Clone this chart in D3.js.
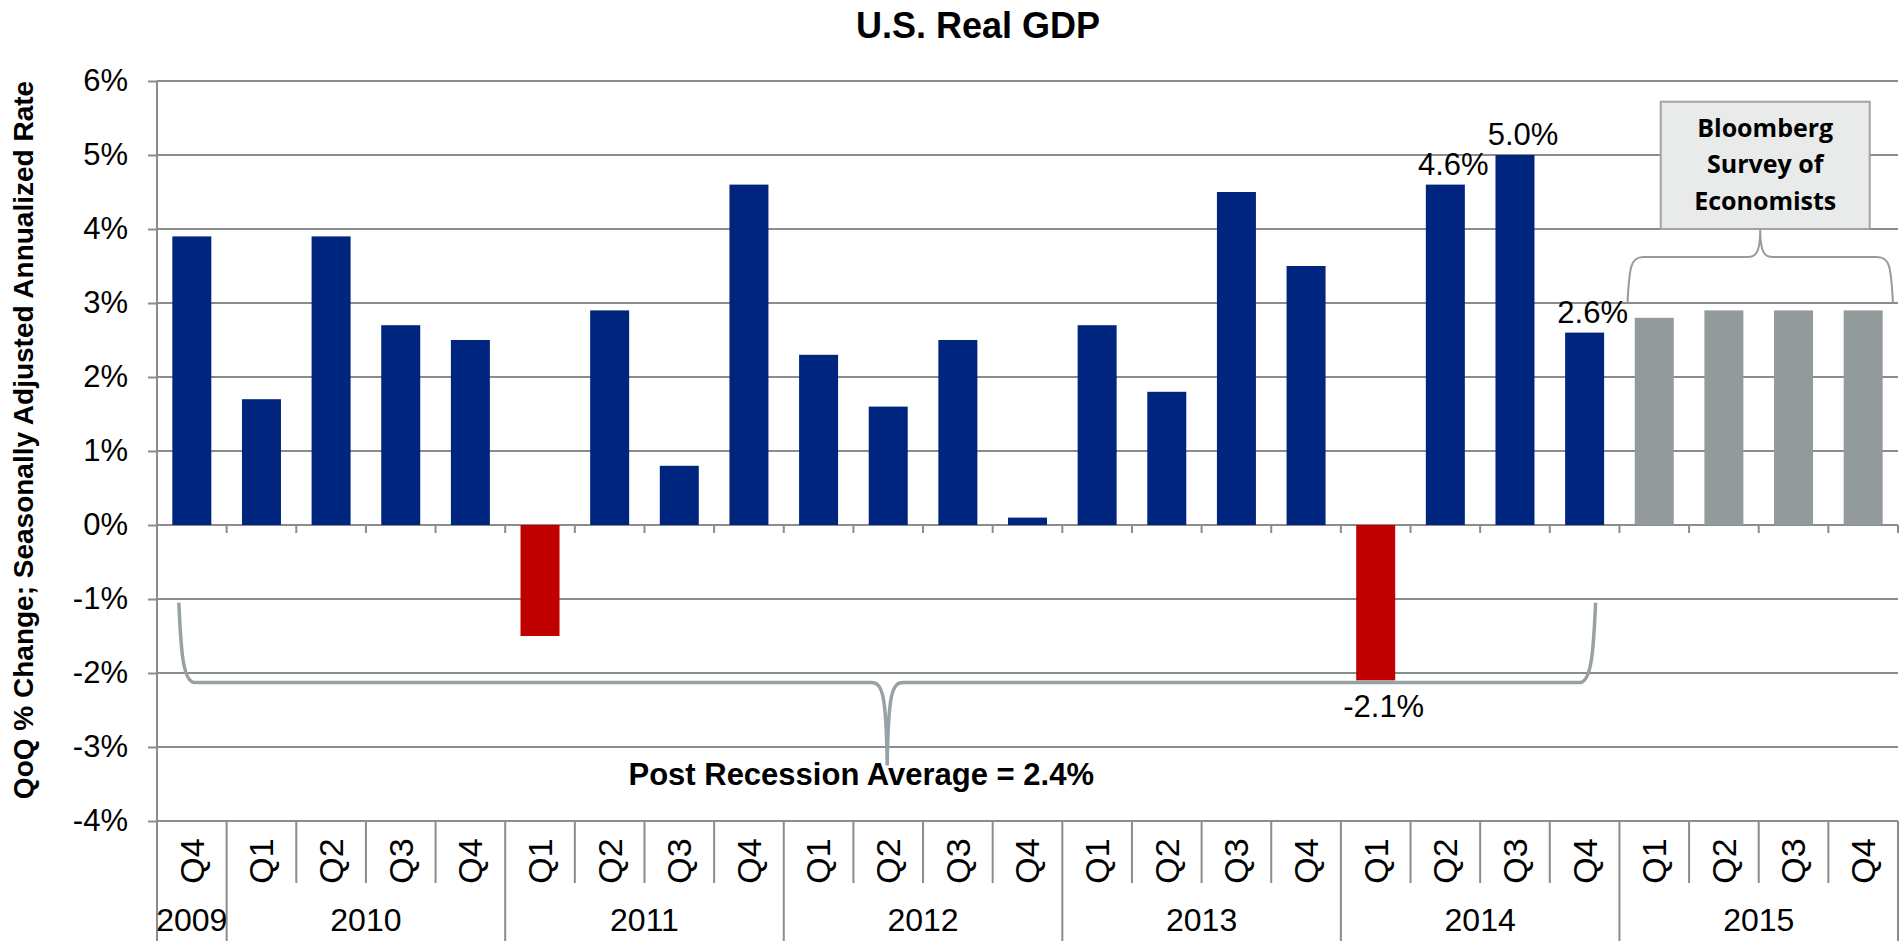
<!DOCTYPE html>
<html>
<head>
<meta charset="utf-8">
<title>U.S. Real GDP</title>
<script src="https://cdn.jsdelivr.net/npm/d3@7"></script>
<style>
  html, body { margin: 0; padding: 0; background: #fff; }
  svg { display: block; font-family: "Liberation Sans", Arial, sans-serif; }
</style>
</head>
<body>
<div id="chart"></div>
<script>
"use strict";

// QoQ % change, seasonally adjusted annualized rate
var yearLabels = ["2009", "2010", "2011", "2012", "2013", "2014", "2015"];
var quarterLabels = [
  ["Q4"],
  ["Q1", "Q2", "Q3", "Q4"],
  ["Q1", "Q2", "Q3", "Q4"],
  ["Q1", "Q2", "Q3", "Q4"],
  ["Q1", "Q2", "Q3", "Q4"],
  ["Q1", "Q2", "Q3", "Q4"],
  ["Q1", "Q2", "Q3", "Q4"]
];
// 2009 Q4 .. 2014 Q4 reported
var actualGrowth = [3.9, 1.7, 3.9, 2.7, 2.5, -1.5, 2.9, 0.8, 4.6, 2.3, 1.6,
                    2.5, 0.1, 2.7, 1.8, 4.5, 3.5, -2.1, 4.6, 5.0, 2.6];
// 2015 Q1 .. Q4 survey
var surveyGrowth = [2.8, 2.9, 2.9, 2.9];
var labeledQuarters = ["2014 Q1", "2014 Q2", "2014 Q3", "2014 Q4"];
var yTicks = [-4, -3, -2, -1, 0, 1, 2, 3, 4, 5, 6];

var titleText = "U.S. Real GDP";
var yTitleText = "QoQ % Change; Seasonally Adjusted Annualized Rate";
var averageText = "Post Recession Average = 2.4%";
var surveyText = ["Bloomberg", "Survey of", "Economists"];

// build one row per quarter
var rows = [];
yearLabels.forEach(function(yr, i) {
  quarterLabels[i].forEach(function(q) {
    rows.push({ key: yr + " " + q, year: yr, quarter: q });
  });
});
var allValues = actualGrowth.concat(surveyGrowth);
rows.forEach(function(d, i) {
  d.value = allValues[i];
  d.survey = i >= actualGrowth.length;
});

var width = 1902, height = 941;
var plotLeft = 157, plotRight = 1898, plotTop = 81, plotBottom = 821;

var svg = d3.select("#chart").append("svg")
    .attr("width", width)
    .attr("height", height);

var x = d3.scaleBand()
    .domain(rows.map(function(d) { return d.key; }))
    .range([plotLeft, plotRight]);

var y = d3.scaleLinear()
    .domain([-4, 6])
    .range([plotBottom, plotTop]);

var barW = x.bandwidth() * 0.56;
var gridColor = "#8c8c8c";

// gridlines
svg.append("g").selectAll("line")
    .data(yTicks)
  .enter().append("line")
    .attr("x1", plotLeft)
    .attr("x2", plotRight)
    .attr("y1", function(d) { return y(d); })
    .attr("y2", function(d) { return y(d); })
    .attr("stroke", gridColor)
    .attr("stroke-width", 2);

// y axis
var yAxis = svg.append("g")
    .attr("transform", "translate(" + plotLeft + ",0)")
    .call(d3.axisLeft(y)
      .tickValues(yTicks)
      .tickSize(9)
      .tickSizeOuter(0)
      .tickPadding(20)
      .tickFormat(function(d) { return d + "%"; }));
yAxis.select(".domain").remove();
yAxis.selectAll(".tick line").attr("stroke", gridColor).attr("stroke-width", 2);
yAxis.selectAll(".tick text")
    .attr("fill", "#000")
    .style("font-size", "31px")
    .style("font-family", "'Liberation Sans', Arial, sans-serif");

svg.append("line")
    .attr("x1", plotLeft).attr("x2", plotLeft)
    .attr("y1", plotTop).attr("y2", height)
    .attr("stroke", gridColor).attr("stroke-width", 2);

// bars
svg.append("g").selectAll("rect")
    .data(rows)
  .enter().append("rect")
    .attr("x", function(d) { return x(d.key) + (x.bandwidth() - barW) / 2; })
    .attr("y", function(d) { return y(Math.max(0, d.value)); })
    .attr("width", barW)
    .attr("height", function(d) { return Math.abs(y(d.value) - y(0)); })
    .attr("fill", function(d) {
      if (d.survey) return "#939a9c";
      return d.value < 0 ? "#c00000" : "#00257f";
    });

// small ticks on the zero line
var bounds = rows.slice(1).map(function(d) { return x(d.key); }).concat([plotRight]);
svg.append("g").selectAll("line")
    .data(bounds)
  .enter().append("line")
    .attr("x1", function(d) { return d; })
    .attr("x2", function(d) { return d; })
    .attr("y1", y(0))
    .attr("y2", y(0) + 8)
    .attr("stroke", gridColor).attr("stroke-width", 2);

// category table below the plot
var yearStart = {};
rows.forEach(function(d) { if (!(d.year in yearStart)) yearStart[d.year] = x(d.key); });
var sepLines = rows.map(function(d) {
  return { x: x(d.key), full: yearStart[d.year] === x(d.key) };
}).concat([{ x: plotRight, full: true }]);

svg.append("g").selectAll("line")
    .data(sepLines)
  .enter().append("line")
    .attr("x1", function(d) { return d.x; })
    .attr("x2", function(d) { return d.x; })
    .attr("y1", plotBottom)
    .attr("y2", function(d) { return d.full ? height : plotBottom + 62; })
    .attr("stroke", gridColor).attr("stroke-width", 2);

svg.append("g").selectAll("text")
    .data(rows)
  .enter().append("text")
    .attr("transform", function(d) {
      return "translate(" + (x(d.key) + x.bandwidth() / 2) + "," + (plotBottom + 40) + ") rotate(-90)";
    })
    .attr("dy", "0.35em")
    .attr("text-anchor", "middle")
    .style("font-size", "34px")
    .text(function(d) { return d.quarter; });

svg.append("g").selectAll("text")
    .data(yearLabels)
  .enter().append("text")
    .attr("x", function(yr) {
      var keys = rows.filter(function(d) { return d.year === yr; });
      var x0 = x(keys[0].key), x1 = x(keys[keys.length - 1].key) + x.bandwidth();
      return (x0 + x1) / 2;
    })
    .attr("y", 931)
    .attr("text-anchor", "middle")
    .style("font-size", "32px")
    .text(function(d) { return d; });

// value labels for 2014
svg.append("g").selectAll("text")
    .data(rows.filter(function(d) { return labeledQuarters.indexOf(d.key) >= 0; }))
  .enter().append("text")
    .attr("x", function(d) { return x(d.key) + x.bandwidth() / 2 + 8; })
    .attr("y", function(d) { return d.value < 0 ? y(d.value) + 37 : y(d.value) - 10; })
    .attr("text-anchor", "middle")
    .style("font-size", "31px")
    .text(function(d) { return d.value.toFixed(1) + "%"; });

// post recession brace
var k0 = rows[0].key, k20 = rows[actualGrowth.length - 1].key;
var bL = x(k0) + x.bandwidth() / 2 - 13,
    bR = x(k20) + x.bandwidth() / 2 + 11,
    bM = (bL + bR) / 2,
    bTop = y(-1.05), bMid = y(-2.13), bTip = y(-3.25);
svg.append("path")
    .attr("d", "M" + bL + "," + bTop +
      " C" + (bL + 2) + "," + (bMid - 40) + " " + (bL + 3) + "," + bMid + " " + (bL + 16) + "," + bMid +
      " L" + (bM - 16) + "," + bMid +
      " C" + (bM - 5) + "," + bMid + " " + (bM - 1) + "," + (bMid + 10) + " " + bM + "," + bTip +
      " C" + (bM + 1) + "," + (bMid + 10) + " " + (bM + 5) + "," + bMid + " " + (bM + 16) + "," + bMid +
      " L" + (bR - 16) + "," + bMid +
      " C" + (bR - 3) + "," + bMid + " " + (bR - 2) + "," + (bMid - 40) + " " + bR + "," + bTop)
    .attr("fill", "none")
    .attr("stroke", "#98a1a5")
    .attr("stroke-width", 3.5);

svg.append("text")
    .attr("x", bM - 26)
    .attr("y", 785)
    .attr("text-anchor", "middle")
    .style("font-size", "31px")
    .style("font-weight", "bold")
    .text(averageText);

// survey brace + box
var s0 = rows[actualGrowth.length].key;
var sL = x(s0) + 8, sR = plotRight - 5, sM = (sL + sR) / 2,
    sEnd = y(3.0), sBar = y(3.62), sTip = y(4.0);
svg.append("path")
    .attr("d", "M" + sL + "," + sEnd +
      " C" + (sL + 2) + "," + (sBar + 10) + " " + (sL + 3) + "," + sBar + " " + (sL + 16) + "," + sBar +
      " L" + (sM - 12) + "," + sBar +
      " C" + (sM - 3) + "," + sBar + " " + sM + "," + (sBar - 8) + " " + sM + "," + sTip +
      " C" + sM + "," + (sBar - 8) + " " + (sM + 3) + "," + sBar + " " + (sM + 12) + "," + sBar +
      " L" + (sR - 16) + "," + sBar +
      " C" + (sR - 3) + "," + sBar + " " + (sR - 2) + "," + (sBar + 10) + " " + sR + "," + sEnd)
    .attr("fill", "none")
    .attr("stroke", "#9a9a9a")
    .attr("stroke-width", 2);

var boxW = 209, boxTop = y(5.72), boxBottom = y(4.0), boxCx = sM + 5;
svg.append("rect")
    .attr("x", boxCx - boxW / 2)
    .attr("y", boxTop)
    .attr("width", boxW)
    .attr("height", boxBottom - boxTop)
    .attr("fill", "#e9eaea")
    .attr("stroke", "#a3a3a3")
    .attr("stroke-width", 2);

svg.append("g").selectAll("text")
    .data(surveyText)
  .enter().append("text")
    .attr("x", boxCx)
    .attr("y", function(d, i) { return boxTop + 35 + i * 36.5; })
    .attr("text-anchor", "middle")
    .style("font-family", "'Open Sans', 'Noto Sans', sans-serif")
    .style("font-size", "25px")
    .style("font-weight", "bold")
    .text(function(d) { return d; });

// titles
svg.append("text")
    .attr("x", 978)
    .attr("y", 38)
    .attr("text-anchor", "middle")
    .style("font-size", "36px")
    .style("font-weight", "bold")
    .text(titleText);

svg.append("text")
    .attr("transform", "translate(33,440) rotate(-90)")
    .attr("text-anchor", "middle")
    .style("font-size", "28px")
    .style("font-weight", "bold")
    .text(yTitleText);
</script>
</body>
</html>
